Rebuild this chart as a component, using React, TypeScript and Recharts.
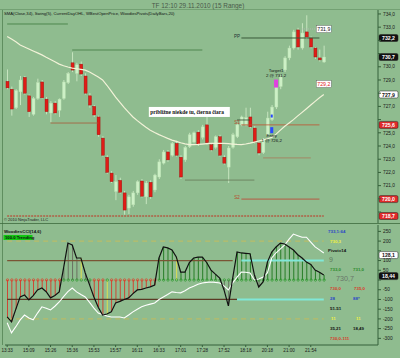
import React from "react";
import {
  ComposedChart,
  Bar,
  Line,
  XAxis,
  YAxis,
  ReferenceLine,
  ReferenceDot,
} from "recharts";

const timeLabels = ["13:33", "15:09", "15:26", "15:36", "15:53", "15:57", "16:11", "16:33", "17:01", "17:28", "17:52", "18:18", "20:18", "21:00", "21:54"];

// 15 range bars, OHLC
const opens = [728.9, 728.3, 726.9, 728.1, 729.2, 727.8, 726.4, 727.6, 728.85, 727.55, 726.5, 727.25, 726.7, 727.6, 728.8, 730.3, 729.5, 730.2, 729.3, 727.8, 727.0, 726.2, 724.6, 723.15, 721.95, 720.55, 721.4, 720.45, 719.3, 719.55, 720.45, 721.35, 720.15, 721.25, 720.67, 721.65, 722.7, 723.55, 723.3, 724.2, 723.15, 722.95, 723.95, 724.3, 725.05, 724.65, 725.6, 724.1, 723.9, 724.7, 723.15, 722.4, 723.9, 724.7, 725.6, 725.6, 726.2, 725.36, 724.23, 723.5, 724.83, 726.0, 726.95, 728.5, 729.76, 730.67, 731.42, 732.79, 731.42, 732.64, 732.18, 731.42, 730.67, 730.36];
const highs = [729.8, 728.5, 728.3, 729.3, 729.3, 727.9, 727.7, 729.1, 729.0, 727.7, 727.4, 727.4, 727.6, 729.0, 729.6, 731.1, 730.3, 730.4, 729.5, 728.0, 727.1, 726.3, 724.75, 723.3, 722.1, 721.8, 721.6, 720.6, 720.3, 720.6, 721.4, 721.5, 721.35, 721.4, 721.9, 723.0, 723.7, 723.7, 724.3, 724.4, 723.3, 724.0, 725.0, 725.1, 725.2, 725.6, 726.2, 724.2, 724.8, 724.85, 723.3, 724.0, 725.0, 725.7, 726.3, 726.9, 726.9, 725.5, 724.35, 724.6, 726.6, 727.1, 728.8, 729.4, 730.8, 731.6, 732.8, 732.95, 733.3, 733.9, 732.3, 731.5, 731.3, 731.6];
const lows = [728.3, 726.3, 726.8, 727.1, 727.9, 726.2, 726.3, 727.5, 727.6, 726.4, 725.8, 726.4, 726.2, 727.5, 728.7, 729.6, 728.9, 729.3, 727.9, 726.9, 726.2, 724.7, 723.2, 721.9, 721.2, 719.9, 720.4, 718.8, 718.85, 719.4, 720.3, 720.1, 719.6, 720.0, 720.5, 721.5, 722.6, 722.8, 723.2, 723.2, 721.5, 722.8, 723.85, 724.2, 724.0, 724.5, 724.1, 723.6, 723.8, 723.2, 722.6, 721.2, 723.8, 724.6, 725.5, 725.5, 725.35, 724.2, 723.3, 723.4, 724.7, 725.9, 726.8, 728.3, 729.6, 730.5, 731.3, 731.3, 731.3, 732.1, 731.4, 730.6, 730.4, 730.3];
const closes = [728.4, 726.8, 728.2, 729.0, 728.0, 726.6, 727.6, 728.8, 727.65, 726.6, 727.25, 726.5, 727.55, 728.85, 729.5, 729.75, 730.15, 729.45, 728.0, 727.1, 726.35, 724.85, 723.3, 722.0, 721.3, 721.3, 720.5, 719.15, 720.15, 720.45, 721.3, 720.2, 721.2, 720.15, 721.8, 722.8, 723.55, 722.95, 724.2, 723.3, 721.65, 723.9, 724.85, 725.0, 724.1, 725.45, 724.25, 723.7, 724.7, 723.3, 722.7, 723.85, 724.85, 725.6, 726.2, 726.15, 725.45, 724.3, 723.47, 724.45, 726.12, 726.95, 728.62, 729.23, 730.67, 731.42, 732.64, 731.5, 732.56, 732.26, 731.5, 730.74, 730.52, 730.74];
const sma34 = [732.3, 732.1, 731.9, 731.65, 731.5, 731.35, 731.2, 731.05, 730.9, 730.72, 730.55, 730.38, 730.2, 730.08, 729.98, 729.9, 729.85, 729.8, 729.75, 729.6, 729.42, 729.22, 729.0, 728.6, 728.15, 727.7, 727.3, 726.9, 726.55, 726.2, 725.92, 725.66, 725.42, 725.2, 725.02, 724.86, 724.72, 724.58, 724.45, 724.35, 724.25, 724.16, 724.1, 724.1, 724.12, 724.15, 724.18, 724.2, 724.2, 724.2, 724.2, 724.18, 724.15, 724.12, 724.1, 724.15, 724.22, 724.3, 724.38, 724.46, 724.55, 724.65, 724.9, 725.2, 725.5, 725.75, 726.0, 726.28, 726.55, 726.82, 727.1, 727.38, 727.65, 727.9];
const emptySlots = 12;

// Woodies CCI panel
const cciValues = [-190, -215, -150, -87, -77, -102, -80, -51, -41, -60, -92, -80, -61, 61, 190, 180, 113, 113, 36, -25, -87, -140, -180, -175, -164, -118, -110, -100, -92, -70, -51, -48, -41, -35, -26, 113, 170, 165, 154, 118, 41, 41, 90, 113, 118, 118, 90, 51, 30, 10, -51, -133, 10, 144, 139, 137, 135, 26, -36, -10, 92, 144, 170, 190, 185, 170, 154, 130, 113, 92, 80, 51, 40, 26];
const turboCci = [-220, -272, -240, -205, -180, -195, -205, -170, -138, -145, -154, -135, -113, -85, -60, -41, -61, -75, -87, -115, -145, -170, -178, -185, -190, -190, -190, -195, -180, -164, -150, -138, -130, -124, -118, -100, -87, -75, -61, -64, -66, -55, -41, -32, -22, -15, -12, -10, -12, -15, -30, -51, -15, 15, 41, 40, 36, 0, 5, 15, 36, 113, 140, 160, 180, 210, 236, 228, 220, 220, 195, 170, 155, 139];
const trendState = ("ddddddddddddd" + "nnnn" + "y" + "nn" + "ddd" + "y" + "ddddddddddd" + "uuuu" + "y" + "uuuuuuuuuu" + "nn" + "uuuuu" + "nnn" + "uuuuuuuuuuuuuu").split("");

const priceTicks = [734, 733, 732, 731, 730, 729, 728, 727, 726, 725, 724, 723, 722, 721, 720, 719];
const cciTicks = [250, 200, 150, 100, 50, 0, -50, -100, -150, -200, -250, -300];

// values flagged on the right axis
const priceTags = [
  { v: 732.18, t: "732,2", bg: "#111", fg: "#fff" },
  { v: 730.74, t: "730,7", bg: "#111", fg: "#fff" },
  { v: 727.9, t: "727,9", bg: "#fff", fg: "#111" },
  { v: 725.6, t: "725,6", bg: "#e02a2a", fg: "#fff" },
  { v: 719.98, t: "720,0", bg: "#e02a2a", fg: "#fff" },
  { v: 718.7, t: "718,7", bg: "#e02a2a", fg: "#fff" },
];
const cciTags = [
  { v: 128, t: "128,1", bg: "#fff", fg: "#111" },
  { v: 20, t: "18,44", bg: "#111", fg: "#fff" },
];

const slots = opens.length + emptySlots;
const priceData = Array.from({ length: slots }, (_, i) =>
  i < opens.length
    ? { i, open: opens[i], high: highs[i], low: lows[i], close: closes[i], range: [lows[i], highs[i]], sma: sma34[i] }
    : { i },
);
const cciData = Array.from({ length: slots }, (_, i) =>
  i < cciValues.length ? { i, cci: cciValues[i], tcci: turboCci[i], state: trendState[i] } : { i },
);

const FONT = "'Liberation Sans', Arial, sans-serif";
const BG = "#8fbc8f";

const Candle = (props: any) => {
  const { x, y, width, height, payload } = props;
  if (payload == null || payload.open == null) return null;
  const { open, close, high, low } = payload;
  const top = Math.min(y, y + height);
  const h = Math.abs(height);
  const k = h / (high - low);
  const py = (v: number) => top + (high - v) * k;
  const up = close >= open;
  const cx = x + width / 2;
  const bodyTop = py(Math.max(open, close));
  const bodyH = Math.max(1, Math.abs(py(open) - py(close)));
  return (
    <g>
      <line x1={cx} x2={cx} y1={top} y2={top + h} stroke="#d4efcc" strokeWidth={0.8} />
      <rect x={x} y={bodyTop} width={width} height={bodyH} fill={up ? "#cdf0c6" : "#e01c16"} stroke={up ? "#b4dcac" : "#9a1010"} strokeWidth={0.4} />
    </g>
  );
};

const histColors: Record<string, string> = { d: "#d43a2a", u: "#1c761c", n: "#666a5c", y: "#e6e24a" };

const HistBar = (props: any) => {
  const { x, y, width, height, payload } = props;
  if (payload == null || payload.cci == null) return null;
  const top = Math.min(y, y + height);
  const bot = Math.max(y, y + height);
  const cx = x + width / 2;
  const base = payload.cci >= 0 ? bot : top;
  return (
    <g>
      <line x1={cx} x2={cx} y1={top} y2={bot} stroke={histColors[payload.state]} strokeWidth={0.9} />
      <circle cx={cx} cy={base} r={1.2} fill="none" stroke={payload.state === "d" ? "#e23a22" : "#2a9a2a"} strokeWidth={0.7} />
    </g>
  );
};

// axis tick text, hidden where a flagged value box covers it
const axisTick = (fmt: (v: number) => string, tags: { v: number }[], tol: number) => (p: any) => {
  const v = p.payload.value;
  if (tags.some((t) => Math.abs(t.v - v) < tol)) return <g />;
  return (
    <text x={p.x} y={p.y + 1.7} fontSize={4.8} fill="#1a1a1a" fontFamily={FONT}>
      {fmt(v)}
    </text>
  );
};

const axisTag = (text: string, bg: string, fg: string) => (p: any) => {
  const vb = p.viewBox;
  const x = vb.x + vb.width + 1;
  const y = vb.y;
  return (
    <g>
      <rect x={x} y={y - 3.5} width={19} height={7} rx={1.5} fill={bg} stroke="#222" strokeWidth={0.5} />
      <text x={x + 9.5} y={y + 2} textAnchor="middle" fontSize={5.2} fontWeight="bold" fontFamily={FONT} fill={fg}>
        {text}
      </text>
    </g>
  );
};

const textNote = (lines: string[], size: number, fill: string, anchor: string = "middle") => (p: any) => (
  <text x={p.cx} y={p.cy} textAnchor={anchor} fontSize={size} fontFamily={FONT} fill={fill}>
    {lines.map((t, k) => (
      <tspan key={k} x={p.cx} dy={k ? size + 0.5 : 0}>
        {t}
      </tspan>
    ))}
  </text>
);

const boxNote = (text: string, fg: string, w: number) => (p: any) => (
  <g>
    <rect x={p.cx - w / 2} y={p.cy - 3.5} width={w} height={7} fill="#ffffff" stroke="#555" strokeWidth={0.4} />
    <text x={p.cx} y={p.cy + 2} textAnchor="middle" fontSize={5.2} fontFamily={FONT} fill={fg}>
      {text}
    </text>
  </g>
);

const markRect = (w: number, h: number, fill: string) => (p: any) => (
  <rect x={p.cx - w / 2} y={p.cy - h / 2} width={w} height={h} fill={fill} />
);

const seg = (a: number, b: number, y: number) => [
  { x: a, y },
  { x: b, y },
];

const sideText = [
  { x: 328, y: 233, t: "733,1:64", c: "#2a44c8" },
  { x: 330, y: 243, t: "730,3", c: "#f0f040" },
  { x: 328, y: 252, t: "Pivot=14", c: "#111" },
  { x: 353, y: 271, t: "731,0", c: "#2a8a2a" },
  { x: 330, y: 271, t: "733,0", c: "#2a8a2a" },
  { x: 330, y: 290, t: "730,0", c: "#d83a2a" },
  { x: 354, y: 290, t: "735,0", c: "#d83a2a" },
  { x: 330, y: 300, t: "28", c: "#2a44c8" },
  { x: 353, y: 300, t: "88*", c: "#2a44c8" },
  { x: 330, y: 310, t: "51-51", c: "#111" },
  { x: 331, y: 320, t: "11", c: "#f0f040" },
  { x: 356, y: 320, t: "11", c: "#f0f040" },
  { x: 330, y: 330, t: "35,21", c: "#111" },
  { x: 353, y: 330, t: "18,49", c: "#111" },
  { x: 330, y: 340, t: "730,0-111", c: "#d83a2a" },
];

export default function App() {
  return (
    <div style={{ position: "fixed", left: 0, top: 0, width: 400, height: 358, background: BG, overflow: "hidden", fontFamily: FONT }}>
      <div style={{ position: "absolute", left: 0, top: 10 }}>
        <ComposedChart width={400} height={213} data={priceData} margin={{ top: 0, right: 0, bottom: 0, left: 5 }}>
          <XAxis dataKey="i" type="category" hide />
          <YAxis
            orientation="right"
            type="number"
            domain={[718.17, 734.3]}
            allowDataOverflow
            ticks={priceTicks}
            interval={0}
            width={22}
            tickSize={3}
            axisLine={{ stroke: "#35603a" }}
            tickLine={{ stroke: "#35603a" }}
            tick={axisTick((v) => v.toFixed(1).replace(".", ","), priceTags, 0.45)}
          />
          <ReferenceLine segment={seg(0, 14, 733.24)} stroke="#3f7a3f" strokeWidth={0.8} />
          <ReferenceLine segment={seg(15, 45, 731.27)} stroke="#3f7a3f" strokeWidth={0.8} />
          <ReferenceLine segment={seg(54, 72, 732.18)} stroke="#3a5a3a" strokeWidth={1} />
          <ReferenceLine segment={seg(68, 71, 732.86)} stroke="#b8b8b8" strokeWidth={0.8} strokeDasharray="1 1" />
          <ReferenceLine segment={seg(10, 21, 725.74)} stroke="#a85a3a" strokeWidth={0.8} />
          <ReferenceLine segment={seg(54, 72, 725.6)} stroke="#c05030" strokeWidth={0.8} />
          <ReferenceLine segment={seg(53, 56, 725.97)} stroke="#304a30" strokeWidth={0.8} />
          <ReferenceLine segment={seg(59, 70, 723.1)} stroke="#a87a5a" strokeWidth={0.8} />
          <ReferenceLine segment={seg(41, 57, 721.42)} stroke="#667a58" strokeWidth={0.8} />
          <ReferenceLine segment={seg(54, 72, 719.98)} stroke="#c04030" strokeWidth={0.8} />
          <ReferenceLine segment={seg(0, 73, 718.7)} stroke="#c03020" strokeWidth={1} strokeDasharray="2 1" />
          <Bar dataKey="range" barSize={3} shape={Candle} isAnimationActive={false} />
          <Line dataKey="sma" stroke="#f2f2d8" strokeWidth={1.2} dot={false} isAnimationActive={false} />
          {priceTags.map((g) => (
            <ReferenceLine key={g.t} y={g.v} stroke="none" label={axisTag(g.t, g.bg, g.fg)} />
          ))}
          <ReferenceDot x={53} y={732.18} shape={textNote(["PP"], 4.5, "#233")} />
          <ReferenceDot x={53} y={725.67} shape={textNote(["S1"], 4.5, "#b84a2a")} />
          <ReferenceDot x={53} y={719.98} shape={textNote(["S2"], 4.5, "#b84a2a")} />
          <ReferenceDot x={62} y={729.6} shape={textNote(["Target1", "2 @ 731,2"], 4.4, "#111")} />
          <ReferenceDot x={61} y={724.68} shape={textNote(["Entry", "1 @ 726,2"], 4.4, "#111")} />
          <ReferenceDot x={62} y={728.73} shape={markRect(4, 8, "#e040e0")} />
          <ReferenceDot x={61} y={726.27} shape={markRect(2, 3, "#2848ff")} />
          <ReferenceDot x={61} y={725.2} shape={markRect(3, 6, "#2848ff")} />
          <ReferenceDot x={73} y={732.86} shape={boxNote("731,9", "#111", 15)} />
          <ReferenceDot x={73} y={728.7} shape={boxNote("729,2", "#e02020", 15)} />
          <ReferenceDot
            x={42}
            y={726.58}
            shape={(p: any) => (
              <g>
                <rect x={p.cx - 40.5} y={p.cy - 5} width={81} height={10} fill="#ffffff" />
                <text x={p.cx - 39} y={p.cy + 2} fontSize={5.4} fontWeight="bold" fontFamily="'Liberation Serif', serif" fill="#111">
                  približne niekde tu, čierna čiara
                </text>
              </g>
            )}
          />
        </ComposedChart>
      </div>

      <div style={{ position: "absolute", left: 0, top: 225 }}>
        <ComposedChart width={400} height={133} data={cciData} margin={{ top: 0, right: 0, bottom: 0, left: 5 }}>
          <XAxis
            dataKey="i"
            type="category"
            ticks={timeLabels.map((_, k) => k * 5)}
            interval={0}
            height={13}
            tickSize={2}
            axisLine={{ stroke: "#35603a" }}
            tickLine={{ stroke: "#35603a" }}
            tick={{ fontSize: 4.6, fill: "#1a1a1a", fontFamily: FONT }}
            tickFormatter={(v: number) => timeLabels[v / 5]}
          />
          <YAxis
            orientation="right"
            type="number"
            domain={[-334.2, 282.8]}
            allowDataOverflow
            ticks={cciTicks}
            interval={0}
            width={22}
            tickSize={3}
            axisLine={{ stroke: "#35603a" }}
            tickLine={{ stroke: "#35603a" }}
            tick={axisTick((v) => String(v), cciTags, 25)}
          />
          <ReferenceLine segment={seg(0, 73, 200)} stroke="#c8bc58" strokeWidth={0.9} strokeDasharray="5 4" />
          <ReferenceLine segment={seg(0, 73, -200)} stroke="#c8bc58" strokeWidth={0.9} strokeDasharray="5 4" />
          <ReferenceLine segment={seg(0, 52, 100)} stroke="#7a5434" strokeWidth={1.2} />
          <ReferenceLine segment={seg(54, 73, 100)} stroke="#80e8d8" strokeWidth={2} />
          <ReferenceLine segment={seg(0, 53, -100)} stroke="#5a3a24" strokeWidth={1.2} />
          <ReferenceLine segment={seg(53, 73, -100)} stroke="#80e8d8" strokeWidth={2} />
          <Bar dataKey="cci" barSize={3} shape={HistBar} isAnimationActive={false} />
          <Line dataKey="tcci" stroke="#ffffff" strokeWidth={1.1} dot={false} isAnimationActive={false} />
          <Line dataKey="cci" stroke="#111111" strokeWidth={1.2} dot={false} isAnimationActive={false} />
          {cciTags.map((g) => (
            <ReferenceLine key={g.t} y={g.v} stroke="none" label={axisTag(g.t, g.bg, g.fg)} />
          ))}
        </ComposedChart>
      </div>

      <svg width={400} height={358} style={{ position: "absolute", left: 0, top: 0, pointerEvents: "none" }} fontFamily={FONT}>
        <text x={198} y={7.5} textAnchor="middle" fontSize={6.4} fill="#4a5a4a">
          TF 12:10 29.11.2010 (15 Range)
        </text>
        <line x1={0} x2={400} y1={9.5} y2={9.5} stroke="#5f8f5f" strokeWidth={0.6} />
        <line x1={2.5} x2={2.5} y1={10} y2={345} stroke="#4a7a4a" strokeWidth={0.7} />
        <line x1={0} x2={400} y1={223.5} y2={223.5} stroke="#3d6b3d" strokeWidth={0.8} />
        <text x={4} y={15} fontSize={4.2} fill="#111">
          SMA(Close,34), Swing(5), CurrentDayOHL, WBestOpenPrice, WoodiesPivots(DailyBars,20)
        </text>
        <text x={4} y={220.5} fontSize={4} fill="#222">
          © 2010 NinjaTrader, LLC
        </text>
        <text x={4} y={233} fontSize={4.4} fontWeight="bold" fill="#111">
          WoodiesCCI(14,6)
        </text>
        <rect x={3.5} y={235} width={29} height={5} fill="#12c812" />
        <text x={5} y={239.2} fontSize={4.2} fontWeight="bold" fill="#111">
          100.0 Trending
        </text>
        {sideText.map((s, k) => (
          <text key={k} x={s.x} y={s.y} fontSize={4.4} fontWeight="bold" fill={s.c}>
            {s.t}
          </text>
        ))}
        <text x={329} y={262} fontSize={7} fill="#5e7a5e">
          9
        </text>
        <text x={336} y={281} fontSize={7.2} fill="#6a766a">
          730,7
        </text>
      </svg>
    </div>
  );
}
